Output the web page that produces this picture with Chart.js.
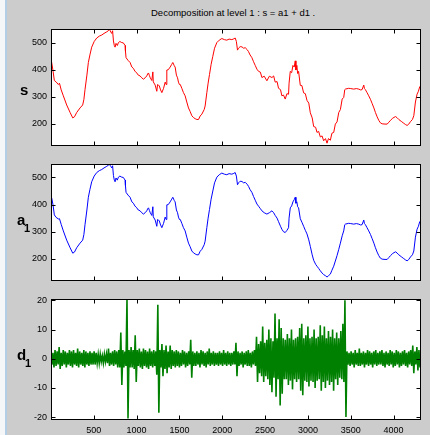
<!DOCTYPE html>
<html><head><meta charset="utf-8">
<script src="https://cdn.jsdelivr.net/npm/chart.js@4.4.1/dist/chart.umd.min.js"></script>
<style>
html,body{margin:0;padding:0;background:#fff;}
#fig{position:relative;width:430px;height:435px;background:#cccccc;overflow:hidden;}
#edge{position:absolute;left:0;top:0;width:5px;height:435px;background:#f4f6f8;}
#edge2{position:absolute;left:5px;top:0;width:2px;height:435px;background:#b4cde6;}
canvas{position:absolute;left:0;}
.t{position:absolute;font-family:"Liberation Sans",Arial,sans-serif;color:#000;white-space:nowrap;}
.lab{font-weight:bold;font-size:15px;line-height:15px;}
.sub{font-weight:bold;font-size:11px;line-height:11px;}
#title{font-size:9.5px;line-height:10px;left:151px;top:8px;}
</style></head>
<body>
<div id="fig">
  <div id="edge"></div><div id="edge2"></div>
  <div class="t" id="title">Decomposition at level 1 : s = a1 + d1 .</div>
  <canvas id="c1" width="430" height="135" style="top:20px"></canvas>
  <canvas id="c2" width="430" height="135" style="top:155px"></canvas>
  <canvas id="c3" width="430" height="145" style="top:290px"></canvas>
  <div class="t lab" style="left:20px;top:82px">s</div>
  <div class="t lab" style="left:17px;top:212px">a</div>
  <div class="t sub" style="left:24px;top:223px">1</div>
  <div class="t lab" style="left:17px;top:347px">d</div>
  <div class="t sub" style="left:25px;top:358px">1</div>
</div>
<script>
// ---- data ----
const xs = [0,9,25,40,60,87,100,120,145,184,224,255,275,301,340,371,385,398,420,437,455,476,505,535,565,593,620,652,670,683,700,710,720,730,740,749,760,775,788,805,827,845,866,870,877,900,924,945,963,980,1002,1020,1041,1060,1080,1100,1119,1130,1139,1150,1160,1178,1190,1195,1217,1236,1245,1256,1265,1280,1295,1315,1334,1345,1353,1370,1392,1410,1423,1440,1450,1465,1478,1489,1500,1510,1528,1547,1567,1586,1606,1625,1645,1665,1684,1704,1723,1742,1762,1789,1800,1820,1835,1851,1870,1890,1910,1937,1965,1995,2025,2053,2080,2112,2135,2151,2165,2178,2190,2209,2230,2250,2268,2290,2307,2325,2346,2365,2385,2405,2424,2445,2463,2490,2521,2550,2580,2600,2618,2640,2657,2680,2696,2715,2735,2755,2774,2780,2794,2810,2825,2840,2852,2860,2871,2880,2891,2911,2930,2950,2970,2989,3010,3028,3050,3067,3090,3106,3125,3145,3165,3184,3205,3223,3240,3262,3280,3301,3320,3340,3360,3379,3400,3418,3430,3437,3476,3500,3535,3565,3593,3615,3632,3652,3660,3671,3690,3710,3730,3749,3770,3788,3808,3827,3845,3866,3900,3925,3945,3964,3990,4022,4040,4061,4090,4119,4140,4158,4175,4197,4220,4236,4255,4274,4290,4305,4320];
const sVals = [430,427,395,360,355,345,350,325,303,269,241,221,225,241,258,269,290,326,380,427,455,484,505,518,525,529,535,541,545,550,540,535,545,507,490,484,498,490,501,505,501,500,490,470,445,435,427,410,405,395,388,380,377,370,365,370,377,385,388,378,370,360,392,355,343,320,345,343,340,325,315,331,354,345,399,400,410,420,427,415,410,380,370,354,345,345,331,315,303,280,258,245,229,222,218,215,215,228,235,252,265,315,350,382,420,450,480,501,510,516,512,510,514,512,515,518,505,473,480,486,485,480,482,475,467,455,445,430,416,402,394,391,371,376,359,376,371,377,354,356,331,326,303,306,291,311,309,350,394,389,416,410,433,399,416,386,394,342,341,314,311,286,276,240,221,189,186,167,171,150,154,136,144,127,144,138,164,167,198,206,241,252,291,297,326,328,331,330,328,330,328,325,326,343,330,326,315,303,290,275,258,241,225,212,203,199,198,198,205,212,220,226,222,215,208,201,196,193,197,207,215,229,280,309,320,337,326];
const a1Vals = [428,425,398,362,353,347,348,327,303,269,241,221,225,241,258,269,290,326,380,427,455,484,505,518,525,529,535,541,545,548,540,535,543,507,490,484,498,490,501,505,501,500,490,470,445,435,427,410,405,395,388,380,377,370,365,370,377,385,388,378,370,360,392,355,343,320,345,343,340,325,315,331,354,345,399,400,410,420,427,415,410,380,370,354,345,345,331,315,303,280,258,245,229,222,218,215,215,228,235,252,265,315,350,382,420,450,480,501,510,516,512,510,514,512,515,518,505,473,480,486,485,480,482,475,467,455,445,430,416,402,394,385,377,370,365,370,377,370,360,350,337,320,309,300,297,305,315,350,388,395,410,418,427,405,410,392,388,348,335,320,305,292,270,246,215,195,180,173,165,156,148,142,138,133,138,144,158,173,192,212,235,258,285,303,326,328,331,330,328,330,328,325,326,343,330,326,315,303,290,275,258,241,225,212,203,199,198,198,205,212,220,226,222,215,208,201,196,193,197,207,215,229,280,309,320,337,326];
// d1 detail: upper / lower excursion at each sample (sample spacing d1Step)
const d1Step = 24;
const d1Hi = [2.5,2,3,2.5,4,2,3,2.5,2,3, 2.5,3,2,3.5,2.5,2,3,2.5,2,2.5, 2,2.5,2,1.5,1.5,1,1.5,1.5,3.5,2, 2.5,3,2.5,3,9,3,2.5,20.5,3,4, 3,8,3,3.5,2.5,3.5,3,2.5,3.5,2.5, 3,2.5,18.5,3,5,3,4.5,2.5,4.5,3, 2.5,3,2.5,2,3,2.5,2,2.5,6.5,2.5, 2,2.5,2,3,2.5,2,2.5,3.5,2,2.5, 2,2,2.5,2,3,2,2.5,2,2,2.5, 5.5,2.5,2,2.5,2,2.5,3,2,2.5,3, 7.5,5,6,11,5.5,6.5,10,7,6,15.5, 7,13.5,10.5,7,6.5,8.5,7,10,6.5,7, 7.5,10.5,12,7,8,11,7,7.5,10,7, 7.5,11.5,8,11,7,9.5,7.5,10,7,9, 7,9.5,12,20,2.5,2,2.5,2,3,2, 3.5,2,2.5,2,3,2.5,2,2.5,3,2, 2.5,3,2,2.5,2,3,2.5,2,3,2.5, 2,2.5,3,2,2.5,3,4.5,2.5,4,3, 2.5];
const d1Lo = [-2,-3,-2.5,-2,-3.5,-2.5,-2,-3,-2,-2.5, -3,-2,-2.5,-3,-2,-2.5,-3,-2,-2.5,-2, -2,-2,-1.5,-1.5,-1,-1.5,-1,-1.5,-2.5,-2, -2.5,-2,-3,-3,-9,-3,-2.5,-20.5,-3,-3, -3.5,-8,-2.5,-3,-3.5,-2.5,-3,-3.5,-2.5,-3, -2.5,-5.5,-18.5,-3,-6,-3.5,-5,-3,-3.5,-2.5, -3,-2.5,-3,-2.5,-2,-3,-2.5,-2,-6.5,-2.5, -2.5,-2,-3,-2,-2.5,-3,-2,-2.5,-2,-2.5, -2,-2.5,-2,-2.5,-2,-2.5,-2,-2.5,-2,-2, -6,-2.5,-2,-3,-2,-2.5,-2.5,-3,-2,-2.5, -8,-5,-6,-8,-6,-7,-9,-11.5,-6.5,-13, -7,-16,-12,-7,-7,-9,-7.5,-10.5,-7,-8, -7,-11,-12.5,-7.5,-8,-9.5,-7.5,-8,-10,-7.5, -7,-11,-8,-10,-7.5,-9,-8,-11,-7,-9, -6.5,-7,-8,-20,-2,-2.5,-2,-3,-2,-2.5, -2.5,-2,-3,-2,-2.5,-2,-3,-2,-2.5,-2, -2,-2.5,-3,-2,-2.5,-2,-3,-2.5,-2,-3, -2.5,-2,-2.5,-3,-2,-2.5,-5,-2,-4,-3, -2];
const xTicks = [500,1000,1500,2000,2500,3000,3500,4000];
const sTicks = [200,300,400,500];
const dTicks = [-20,-10,0,10,20];
const xRange = [1, 4320];
const sRange = [118, 550];
const aRange = [120, 548];
const dRange = [-21, 20.33];

// ---- build datasets ----
const sData = xs.map((x,i)=>({x, y:sVals[i]}));
const aData = xs.map((x,i)=>({x, y:a1Vals[i]}));
const dData = [];
d1Hi.forEach((h,i)=>{ dData.push({x:i*d1Step, y:h}); dData.push({x:i*d1Step+d1Step/2, y:d1Lo[i]}); });

const framePlugin = {
  id:'frame',
  beforeDatasetsDraw(chart){
    const {ctx, chartArea:a} = chart;
    ctx.save(); ctx.fillStyle='#ffffff';
    ctx.fillRect(a.left, a.top, a.right-a.left, a.bottom-a.top);
    ctx.restore();
  },
  afterDatasetsDraw(chart){
    const {ctx, chartArea:a, scales} = chart;
    const L=Math.round(a.left)+0.5, R=Math.round(a.right)-0.5, T=Math.round(a.top)+0.5, B=Math.round(a.bottom)-0.5;
    ctx.save();
    ctx.strokeStyle='#000'; ctx.lineWidth=1;
    ctx.strokeRect(L,T,R-L,B-T);
    ctx.beginPath();
    scales.x.ticks.forEach(t=>{const p=Math.round(scales.x.getPixelForValue(t.value))+0.5; ctx.moveTo(p,B); ctx.lineTo(p,B-4); ctx.moveTo(p,T); ctx.lineTo(p,T+4);});
    scales.y.ticks.forEach(t=>{const p=Math.round(scales.y.getPixelForValue(t.value))+0.5; ctx.moveTo(L,p); ctx.lineTo(L+4,p); ctx.moveTo(R,p); ctx.lineTo(R-4,p);});
    ctx.stroke();
    ctx.restore();
  }
};

function makeChart(id, data, color, width, yr, yt, showX, padB, xH){
  return new Chart(document.getElementById(id), {
    type:'line',
    data:{datasets:[{data, borderColor:color, borderWidth:width, pointRadius:0, tension:0, fill:false, clip:0, borderJoinStyle:'miter'}]},
    options:{
      responsive:false, animation:false, devicePixelRatio:1, parsing:false, normalized:true,
      layout:{padding:{top:4,bottom:padB,left:0,right:9}},
      plugins:{legend:{display:false}, tooltip:{enabled:false}},
      scales:{
        x:{type:'linear', min:xRange[0], max:xRange[1],
           afterBuildTicks:s=>{s.ticks=xTicks.map(v=>({value:v}));},
           afterFit:s=>{s.height=xH;},
           grid:{display:false, drawTicks:false}, border:{display:false},
           ticks:{display:showX, padding:5, maxRotation:0, autoSkip:false, color:'#000', font:{family:'Liberation Sans', size:9}, callback:v=>String(v)}},
        y:{type:'linear', min:yr[0], max:yr[1],
           afterBuildTicks:s=>{s.ticks=yt.map(v=>({value:v}));},
           afterFit:s=>{s.width=51;},
           grid:{display:false, drawTicks:false}, border:{display:false},
           ticks:{padding:4, color:'#000', font:{family:'Liberation Sans', size:9}, callback:v=>String(v)}}
      }
    },
    plugins:[framePlugin]
  });
}
makeChart('c1', sData, '#ff0000', 1, sRange, sTicks, false, 4, 0);
makeChart('c2', aData, '#0000ff', 1, aRange, sTicks, false, 4, 0);
makeChart('c3', dData, '#008000', 1.6, dRange, dTicks, true, 0, 15);
</script>
</body></html>
